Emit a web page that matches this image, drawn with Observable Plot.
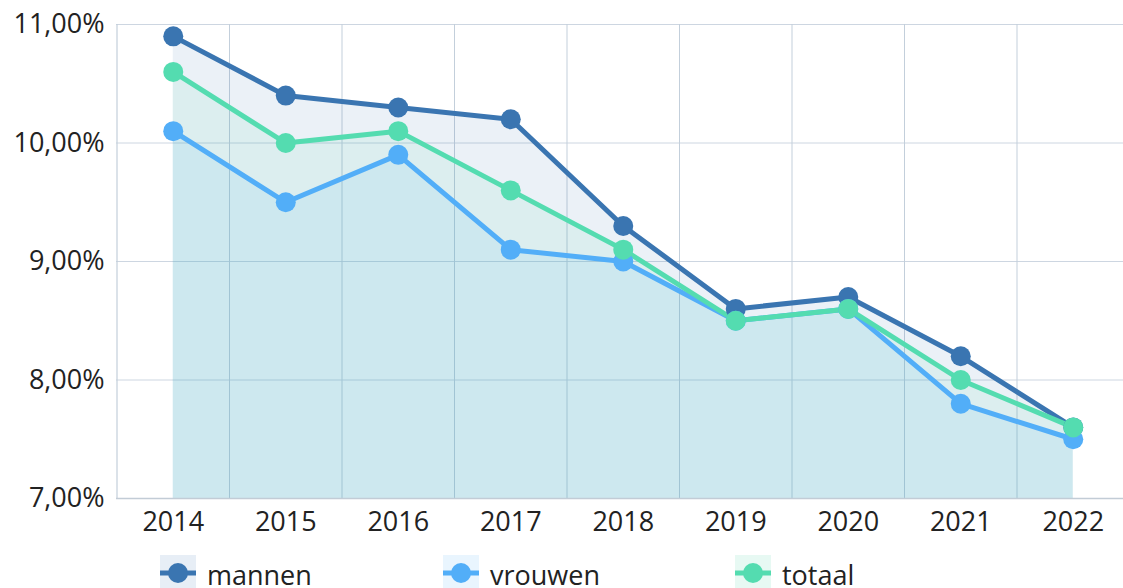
<!DOCTYPE html>
<html>
<head>
<meta charset="utf-8">
<script src="https://cdn.jsdelivr.net/npm/d3@7"></script>
<script src="https://cdn.jsdelivr.net/npm/@observablehq/plot@0.6"></script>
<style>
  html, body { margin: 0; padding: 0; background: #fff; overflow: hidden; }
  body { width: 1123px; height: 588px; position: relative; font-family: "Open Sans", "Noto Sans", sans-serif; }
  #chart { position: absolute; left: 0; top: 0; }
  .legend { position: absolute; top: 555px; left: 0; width: 1123px; height: 33px; overflow: hidden; }
  .item { position: absolute; top: 0; display: flex; align-items: center; height: 36px; }
  .item span { font-size: 27px; color: #222; margin-left: 11px; line-height: 36px; position: relative; top: 2px; }
</style>
</head>
<body>
<div id="chart"></div>
<div class="legend" id="legend"></div>
<script>
const years = [2014, 2015, 2016, 2017, 2018, 2019, 2020, 2021, 2022];
const mannen  = [10.9, 10.4, 10.3, 10.2, 9.3, 8.6, 8.7, 8.2, 7.6];
const vrouwen = [10.1, 9.5, 9.9, 9.1, 9.0, 8.5, 8.6, 7.8, 7.5];
const totaal  = [10.6, 10.0, 10.1, 9.6, 9.1, 8.5, 8.6, 8.0, 7.6];
const seriesNames = ["mannen", "vrouwen", "totaal"];
const seriesColors = ["#3a75b1", "#52aef8", "#54dcb0"];
const swatchBg = ["#e7eef6", "#e9f5fe", "#e7f9f3"];
const yTicks = [7, 8, 9, 10, 11];

const seriesValues = {mannen, vrouwen, totaal};
const rows = seriesNames.flatMap(s => years.map((yr, i) => ({year: yr, value: seriesValues[s][i], series: s})));
const gridX = years.slice(0, -1).map(y => y + 0.5);

const fmt = d => d.toFixed(2).replace(".", ",") + "%";

const plot = Plot.plot({
  width: 1123,
  height: 548,
  marginTop: 24,
  marginBottom: 50,
  marginLeft: 116,
  marginRight: 0,
  style: {fontFamily: "'Open Sans', 'Noto Sans', sans-serif", fontSize: "27px", color: "#222", background: "transparent", overflow: "visible"},
  x: {domain: [2013.5, 2022.5], range: [116.5, 1129], ticks: years, tickFormat: d => String(d), tickSize: 0, tickPadding: 14, label: null},
  y: {domain: [7, 11], ticks: yTicks, tickFormat: fmt, tickSize: 0, tickPadding: 12, label: null},
  color: {domain: seriesNames, range: seriesColors},
  marks: [
    Plot.ruleY(yTicks.slice(1), {stroke: "#cdd6e1", strokeWidth: 1}),
    Plot.ruleX(gridX, {y1: 7, y2: 11, stroke: "#c3cfdb", strokeWidth: 1}),
    Plot.ruleX([2013.5], {y1: 7, y2: 11, stroke: "#c3cfdb", strokeWidth: 1.2}),
    Plot.areaY(rows, {x: "year", y1: 7, y2: "value", z: "series", fill: "series", fillOpacity: 0.1}),
    Plot.ruleY([7], {stroke: "#c2ccd6", strokeWidth: 1.5}),
    ...seriesNames.map(s => Plot.line(rows.filter(r => r.series === s), {x: "year", y: "value", stroke: "series", strokeWidth: 5})),
    ...seriesNames.map(s => Plot.dot(rows.filter(r => r.series === s), {x: "year", y: "value", fill: "series", r: 10, stroke: "none"})),
    Plot.axisX({ticks: years, tickFormat: d => String(d), tickSize: 0, tickPadding: 13, fontSize: 27, label: null}),
    Plot.axisY({ticks: yTicks, tickFormat: fmt, tickSize: 0, tickPadding: 12, fontSize: 27, label: null})
  ]
});
document.getElementById("chart").appendChild(plot);

const legendX = [160, 443, 735];
const legend = document.getElementById("legend");
seriesNames.forEach((s, i) => {
  const item = document.createElement("div");
  item.className = "item";
  item.style.left = legendX[i] + "px";
  item.innerHTML = `<svg width="36" height="36"><rect width="36" height="36" fill="${swatchBg[i]}"/><line x1="0" x2="36" y1="18" y2="18" stroke="${seriesColors[i]}" stroke-width="5"/><circle cx="18" cy="18" r="10" fill="${seriesColors[i]}"/></svg><span>${s}</span>`;
  legend.appendChild(item);
});
</script>
</body>
</html>
